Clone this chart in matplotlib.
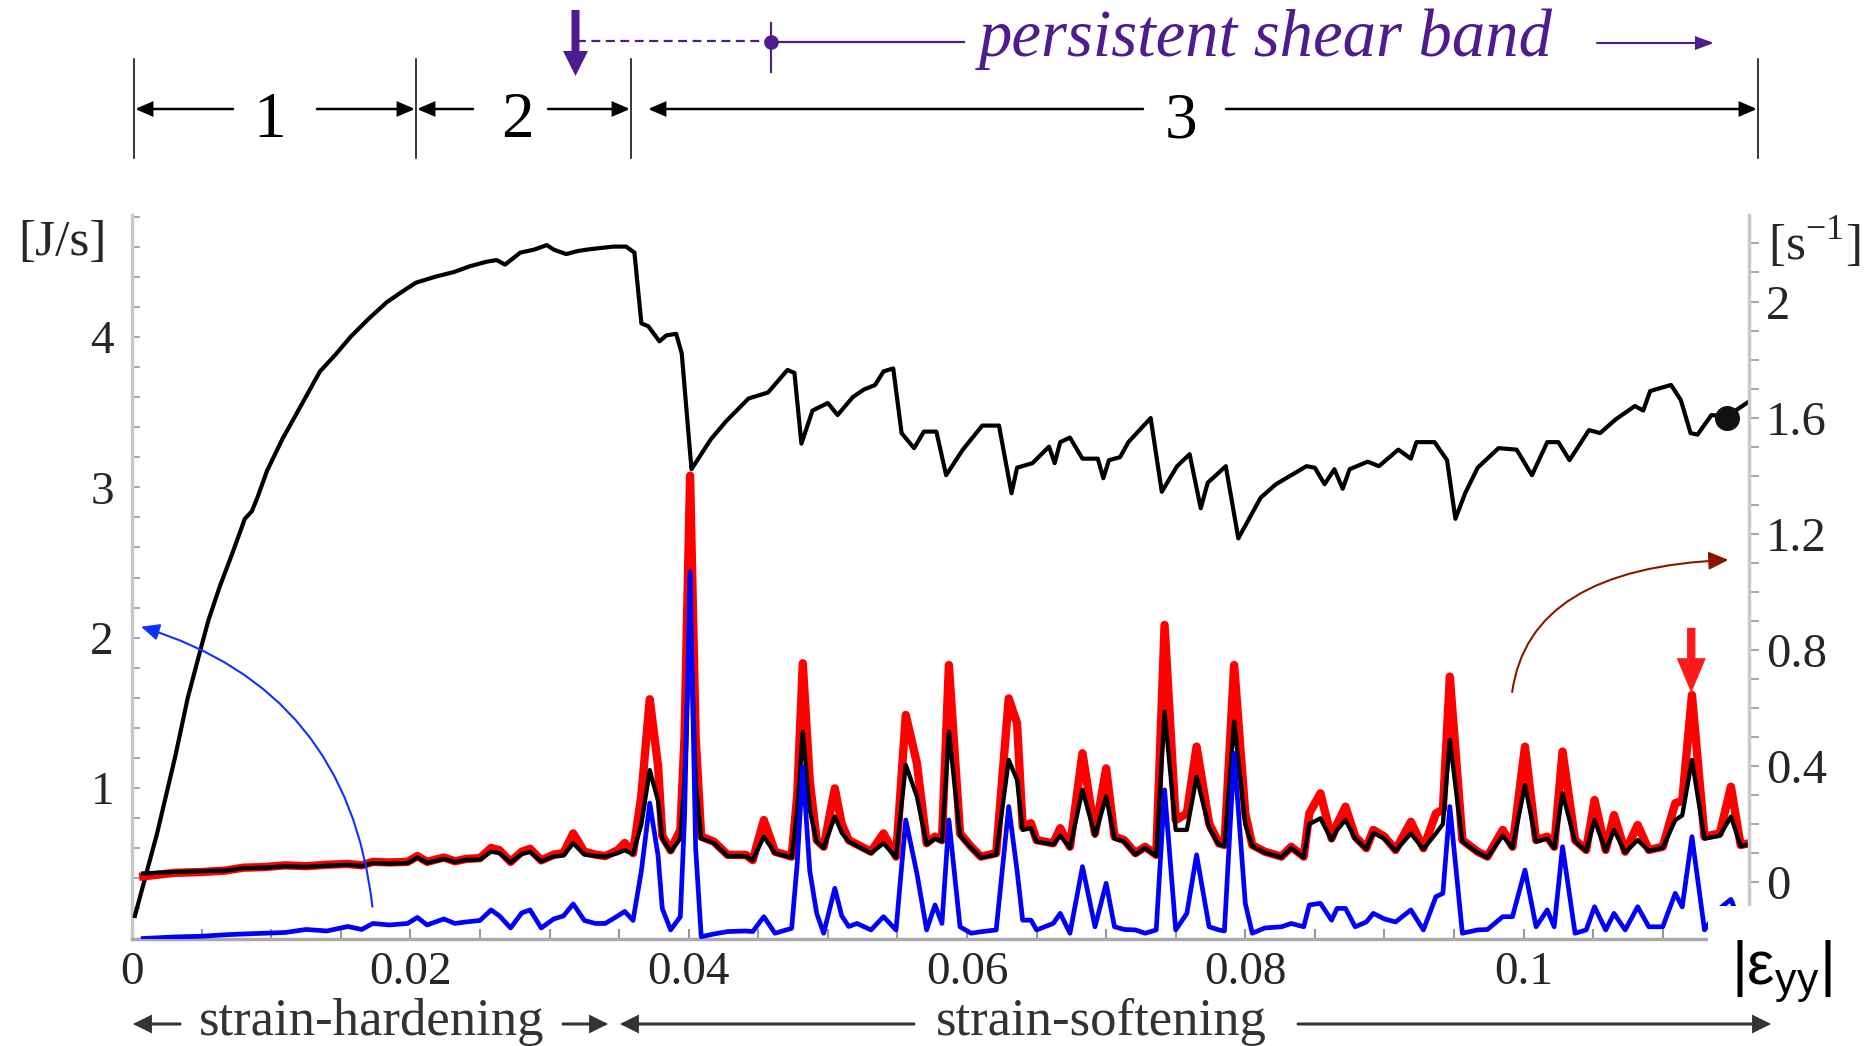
import numpy as np
import matplotlib
matplotlib.use('Agg')
import matplotlib.pyplot as plt
import matplotlib.transforms as mtransforms
from matplotlib.patches import FancyArrowPatch, Rectangle
from matplotlib.path import Path
from matplotlib.lines import Line2D

plt.rcParams['font.family'] = ['Liberation Serif', 'DejaVu Serif']
plt.rcParams['mathtext.fontset'] = 'custom'
plt.rcParams['mathtext.rm'] = 'Liberation Serif'

# ---------------- data ----------------
# dissipation rate curve (J/s, left axis)
top_x = [0.0002, 0.0018, 0.0031, 0.0040, 0.0050, 0.0055, 0.0063, 0.0072, 0.0081, 0.0086,
         0.0090, 0.0097, 0.0108, 0.0117, 0.0126, 0.0135, 0.0140, 0.0146, 0.0157, 0.0170,
         0.0183, 0.0194, 0.0204, 0.0218, 0.0231, 0.0243, 0.0255, 0.0262, 0.0268, 0.0279,
         0.0289, 0.0298, 0.0303, 0.0312, 0.0320, 0.0327, 0.0336, 0.0346, 0.0355, 0.0361,
         0.0366, 0.0371, 0.0379, 0.0384, 0.0391, 0.0395, 0.0402, 0.0416, 0.0427, 0.0443,
         0.0457, 0.0471, 0.0476, 0.0481, 0.0489, 0.0500, 0.0507, 0.0518, 0.0526, 0.0534,
         0.0540, 0.0547, 0.0553, 0.0562, 0.0569, 0.0578, 0.0585, 0.0597, 0.0611, 0.0623,
         0.0632, 0.0636, 0.0647, 0.0659, 0.0663, 0.0667, 0.0674, 0.0683, 0.0694, 0.0698,
         0.0702, 0.0710, 0.0716, 0.0732, 0.0740, 0.0751, 0.0760, 0.0768, 0.0773, 0.0786,
         0.0795, 0.0811, 0.0822, 0.0844, 0.0850, 0.0857, 0.0864, 0.0870, 0.0875, 0.0888,
         0.0896, 0.0910, 0.0919, 0.0923, 0.0936, 0.0945, 0.0951, 0.0958, 0.0967, 0.0982,
         0.0995, 0.1006, 0.1017, 0.1025, 0.1033, 0.1047, 0.1055, 0.1066, 0.1080, 0.1086,
         0.1091, 0.1106, 0.1113, 0.1120, 0.1125, 0.1135, 0.1146, 0.1162]
top_y = [0.15, 0.70, 1.21, 1.60, 1.95, 2.12, 2.34, 2.56, 2.79, 2.84,
         2.93, 3.11, 3.32, 3.47, 3.62, 3.77, 3.82, 3.88, 4.00, 4.12,
         4.23, 4.30, 4.36, 4.40, 4.43, 4.47, 4.50, 4.51, 4.48, 4.56,
         4.58, 4.61, 4.58, 4.55, 4.57, 4.58, 4.59, 4.60, 4.60, 4.56,
         4.09, 4.07, 3.97, 4.01, 4.02, 3.89, 3.12, 3.32, 3.44, 3.59,
         3.63, 3.78, 3.76, 3.29, 3.51, 3.56, 3.48, 3.60, 3.65, 3.68,
         3.77, 3.79, 3.36, 3.26, 3.37, 3.37, 3.08, 3.25, 3.41, 3.41,
         2.96, 3.13, 3.16, 3.27, 3.16, 3.30, 3.33, 3.19, 3.19, 3.06,
         3.18, 3.20, 3.30, 3.46, 2.97, 3.14, 3.22, 2.86, 3.03, 3.14,
         2.66, 2.93, 3.02, 3.14, 3.13, 3.02, 3.12, 2.99, 3.12, 3.17,
         3.14, 3.25, 3.19, 3.30, 3.30, 3.18, 2.79, 2.96, 3.13, 3.26,
         3.25, 3.08, 3.30, 3.30, 3.18, 3.38, 3.36, 3.45, 3.54, 3.51,
         3.64, 3.68, 3.58, 3.36, 3.35, 3.48, 3.47, 3.57]
end_x = [0.1146]
end_y = [3.46]

# spiky curves: shared strain values
spk_x = [0.0008, 0.0030, 0.0050, 0.0067, 0.0080, 0.0095, 0.0110, 0.0125, 0.0140, 0.0155,
         0.0165, 0.0173, 0.0185, 0.0198, 0.0205, 0.0212, 0.0224, 0.0232, 0.0240, 0.0250,
         0.0258, 0.0264, 0.0272, 0.0280, 0.0286, 0.0294, 0.0303, 0.0310, 0.0317, 0.0325,
         0.0333, 0.0340, 0.0349, 0.0354, 0.0360, 0.0366, 0.0372, 0.0378, 0.0381, 0.0387,
         0.0394, 0.0397, 0.0401, 0.0405, 0.0409, 0.0418, 0.0428, 0.0441, 0.0446, 0.0454,
         0.0462, 0.0474, 0.0478, 0.0482, 0.0487, 0.0492, 0.0497, 0.0505, 0.0510, 0.0515,
         0.0521, 0.0531, 0.0540, 0.0549, 0.0556, 0.0564, 0.0571, 0.0577, 0.0582, 0.0587,
         0.0595, 0.0603, 0.0610, 0.0621, 0.0630, 0.0636, 0.0640, 0.0646, 0.0650, 0.0662,
         0.0667, 0.0674, 0.0683, 0.0692, 0.0700, 0.0706, 0.0713, 0.0721, 0.0728, 0.0736,
         0.0742, 0.0750, 0.0758, 0.0765, 0.0774, 0.0781, 0.0785, 0.0792, 0.0800, 0.0805,
         0.0814, 0.0826, 0.0833, 0.0842, 0.0846, 0.0854, 0.0862, 0.0866, 0.0872, 0.0879,
         0.0887, 0.0892, 0.0900, 0.0908, 0.0919, 0.0928, 0.0937, 0.0942, 0.0947, 0.0956,
         0.0967, 0.0974, 0.0985, 0.0992, 0.1001, 0.1009, 0.1017, 0.1022, 0.1028, 0.1037,
         0.1045, 0.1051, 0.1059, 0.1065, 0.1073, 0.1082, 0.1090, 0.1100, 0.1109, 0.1114,
         0.1121, 0.1130, 0.1141, 0.1149, 0.1156, 0.1162]
# red: s^-1 (right axis)
red_y = [0.020, 0.032, 0.035, 0.040, 0.050, 0.052, 0.058, 0.055, 0.060, 0.063,
         0.058, 0.070, 0.068, 0.070, 0.090, 0.070, 0.085, 0.072, 0.080, 0.083,
         0.118, 0.110, 0.070, 0.105, 0.115, 0.075, 0.095, 0.100, 0.168, 0.105,
         0.095, 0.090, 0.110, 0.135, 0.100, 0.300, 0.630, 0.400, 0.160, 0.110,
         0.180, 0.500, 1.400, 0.500, 0.157, 0.140, 0.094, 0.094, 0.076, 0.214,
         0.105, 0.088, 0.300, 0.754, 0.350, 0.145, 0.122, 0.323, 0.200, 0.145,
         0.130, 0.105, 0.168, 0.088, 0.576, 0.410, 0.134, 0.157, 0.145, 0.748,
         0.168, 0.122, 0.088, 0.100, 0.633, 0.547, 0.191, 0.203, 0.145, 0.134,
         0.186, 0.122, 0.444, 0.168, 0.392, 0.157, 0.145, 0.100, 0.122, 0.094,
         0.886, 0.214, 0.237, 0.467, 0.203, 0.134, 0.128, 0.748, 0.237, 0.128,
         0.105, 0.088, 0.122, 0.088, 0.237, 0.306, 0.151, 0.200, 0.260, 0.157,
         0.117, 0.180, 0.157, 0.111, 0.208, 0.117, 0.237, 0.250, 0.708, 0.145,
         0.105, 0.088, 0.180, 0.122, 0.467, 0.145, 0.157, 0.122, 0.450, 0.145,
         0.111, 0.283, 0.111, 0.231, 0.105, 0.197, 0.111, 0.122, 0.272, 0.280,
         0.645, 0.157, 0.168, 0.329, 0.128, 0.134]
# black spiky: s^-1 (right axis)
blk_y = [0.030, 0.035, 0.038, 0.040, 0.048, 0.050, 0.055, 0.053, 0.057, 0.060,
         0.056, 0.066, 0.064, 0.066, 0.085, 0.067, 0.080, 0.070, 0.077, 0.078,
         0.105, 0.100, 0.068, 0.097, 0.104, 0.072, 0.088, 0.092, 0.134, 0.095,
         0.090, 0.088, 0.100, 0.110, 0.097, 0.200, 0.386, 0.280, 0.150, 0.105,
         0.150, 0.350, 0.950, 0.350, 0.150, 0.135, 0.090, 0.090, 0.076, 0.157,
         0.100, 0.085, 0.250, 0.518, 0.250, 0.140, 0.118, 0.226, 0.170, 0.140,
         0.125, 0.100, 0.134, 0.085, 0.404, 0.295, 0.130, 0.150, 0.140, 0.518,
         0.160, 0.118, 0.085, 0.095, 0.421, 0.352, 0.180, 0.186, 0.140, 0.130,
         0.160, 0.118, 0.318, 0.160, 0.295, 0.150, 0.140, 0.095, 0.118, 0.090,
         0.587, 0.180, 0.180, 0.363, 0.186, 0.130, 0.125, 0.553, 0.200, 0.125,
         0.102, 0.085, 0.118, 0.085, 0.200, 0.220, 0.145, 0.180, 0.214, 0.150,
         0.115, 0.170, 0.150, 0.108, 0.168, 0.114, 0.168, 0.200, 0.490, 0.140,
         0.102, 0.085, 0.160, 0.118, 0.335, 0.140, 0.150, 0.118, 0.306, 0.140,
         0.108, 0.214, 0.108, 0.180, 0.102, 0.145, 0.108, 0.118, 0.214, 0.230,
         0.421, 0.150, 0.160, 0.226, 0.125, 0.130]
# blue: J/s (left axis)
blu_y = [0.000, 0.010, 0.015, 0.025, 0.030, 0.035, 0.040, 0.060, 0.050, 0.080,
         0.060, 0.100, 0.090, 0.100, 0.140, 0.090, 0.130, 0.100, 0.110, 0.120,
         0.190, 0.150, 0.070, 0.170, 0.190, 0.070, 0.130, 0.150, 0.230, 0.120,
         0.100, 0.100, 0.150, 0.180, 0.120, 0.450, 0.900, 0.550, 0.200, 0.057,
         0.145, 0.800, 2.440, 0.600, 0.012, 0.030, 0.046, 0.050, 0.046, 0.145,
         0.035, 0.068, 0.500, 1.143, 0.450, 0.167, 0.035, 0.334, 0.150, 0.080,
         0.100, 0.057, 0.145, 0.057, 0.788, 0.433, 0.057, 0.223, 0.100, 0.788,
         0.078, 0.035, 0.045, 0.057, 0.877, 0.450, 0.122, 0.122, 0.057, 0.100,
         0.167, 0.035, 0.478, 0.078, 0.367, 0.078, 0.060, 0.057, 0.035, 0.057,
         0.988, 0.057, 0.167, 0.556, 0.078, 0.057, 0.050, 1.231, 0.234, 0.035,
         0.070, 0.078, 0.100, 0.078, 0.223, 0.234, 0.122, 0.200, 0.200, 0.078,
         0.110, 0.167, 0.130, 0.110, 0.190, 0.057, 0.278, 0.300, 0.877, 0.035,
         0.057, 0.060, 0.145, 0.145, 0.455, 0.078, 0.190, 0.078, 0.610, 0.035,
         0.057, 0.211, 0.057, 0.167, 0.057, 0.211, 0.078, 0.078, 0.300, 0.210,
         0.677, 0.057, 0.200, 0.260, 0.100, 0.060]

x_ticks = [0, 0.02, 0.04, 0.06, 0.08, 0.1]
x_ticklabels = ['0', '0.02', '0.04', '0.06', '0.08', '0.1']
yl_ticks = [1, 2, 3, 4]
yl_ticklabels = ['1', '2', '3', '4']
yr_ticks = [0, 0.4, 0.8, 1.2, 1.6, 2.0]
yr_ticklabels = ['0', '0.4', '0.8', '1.2', '1.6', '2']

# ---------------- figure ----------------
W, H = 1876, 1046
fig = plt.figure(figsize=(W / 100, H / 100), dpi=100)
fig.patch.set_facecolor('white')
ax = fig.add_axes([132.1 / W, 1 - 938.5 / H, (1749 - 132.1) / W, (938.5 - 215) / H])
ax2 = ax.twinx()

XMAX = 0.1162
ax.set_xlim(0, XMAX)
ax.set_ylim(0, 4.81)
ax2.set_ylim(-0.194, 2.298)

purple = '#4e1c8f'
gray = '#c9c9c9'
tlab = '#262626'

ax.plot(top_x, top_y, color='black', lw=3.0, solid_joinstyle='round', zorder=3)
ax.plot(end_x, end_y, 'o', color='#111111', ms=17, zorder=4)
ax.plot(spk_x, red_y, color='#ff0000', lw=6.0, solid_joinstyle='round',
        transform=ax2.transData, zorder=3)
ax.plot(spk_x, blk_y, color='black', lw=3.1, solid_joinstyle='round',
        transform=ax2.transData, zorder=3)
ax.plot(spk_x, blu_y, color='#0000ff', lw=3.4, solid_joinstyle='round', zorder=3)
ax.set_xlim(0, XMAX)
ax.set_ylim(0, 4.81)

for a in (ax, ax2):
    a.spines['top'].set_visible(False)
ax.spines['right'].set_visible(False)
ax2.spines['left'].set_visible(False)
ax2.spines['bottom'].set_visible(False)
ax.spines['left'].set_color(gray)
ax.spines['left'].set_linewidth(2.5)
ax.spines['bottom'].set_color('#aaaaaa')
ax.spines['bottom'].set_linewidth(2.5)
ax2.spines['right'].set_color(gray)
ax2.spines['right'].set_linewidth(2.5)

ax.set_xticks(x_ticks)
ax.set_xticklabels(x_ticklabels)
ax.set_xticks(np.arange(0, 0.1151, 0.005), minor=True)
ax.set_yticks(yl_ticks)
ax.set_yticklabels(yl_ticklabels)
ax.set_yticks(np.arange(0.2, 4.81, 0.2), minor=True)
ax2.set_yticks(yr_ticks)
ax2.set_yticklabels(yr_ticklabels)
ax2.set_yticks(np.arange(-0.1, 2.29, 0.1), minor=True)

ax.tick_params(axis='x', which='both', direction='in', length=7, width=1.5,
               color='#999999', labelsize=34, labelcolor=tlab, pad=9)
ax.tick_params(axis='y', which='both', direction='in', length=6, width=1.5,
               color='#aaaaaa', labelsize=34, labelcolor=tlab, pad=13)
ax2.tick_params(axis='y', which='both', direction='out', length=7, width=1.5,
                color='#aaaaaa', labelsize=35, labelcolor=tlab, pad=5)

# ---------------- annotations (figure pixels, y measured from top) ----------------
ID = mtransforms.IdentityTransform()


def Y(y):
    return H - y


def fline(x0, y0, x1, y1, **kw):
    fig.add_artist(Line2D([x0, x1], [Y(y0), Y(y1)], transform=ID, **kw))


def farrow(x0, y0, x1, y1, color, lw, hl, hw, **kw):
    style = '-|>,head_length=%.2f,head_width=%.2f' % (hl / 1.389, hw / 2 / 1.389)
    fig.add_artist(FancyArrowPatch((x0, Y(y0)), (x1, Y(y1)), transform=ID,
                                   arrowstyle=style, mutation_scale=1, color=color,
                                   lw=lw, shrinkA=0, shrinkB=0, joinstyle='miter', **kw))


def fthick(x0, y0, x1, y1, color, tail, hw, hl):
    style = 'simple,head_length=%.2f,head_width=%.2f,tail_width=%.2f' % (
        hl / 1.389, hw / 1.389, tail / 1.389)
    fig.add_artist(FancyArrowPatch((x0, Y(y0)), (x1, Y(y1)), transform=ID,
                                   arrowstyle=style, mutation_scale=1, color=color,
                                   lw=0, shrinkA=0, shrinkB=0))


# phase boundaries
for bx in (134, 416, 631, 1758):
    fline(bx, 59, bx, 158, color='black', lw=1.1)
# phase arrows
ay = 109
farrow(233, ay, 135, ay, 'black', 1.8, 14, 12)
farrow(317, ay, 415, ay, 'black', 1.8, 14, 12)
farrow(473, ay, 417, ay, 'black', 1.8, 14, 12)
farrow(548, ay, 630, ay, 'black', 1.8, 14, 12)
farrow(1143, ay, 648, ay, 'black', 1.8, 14, 12)
farrow(1226, ay, 1757, ay, 'black', 1.8, 14, 12)
for txt, tx in (('1', 270), ('2', 517), ('3', 1181)):
    fig.text(tx, Y(137), txt, transform=ID, ha='center', va='baseline',
             fontsize=47, color='black')

# persistent shear band
fthick(575.5, 10, 575.5, 76, purple, 8, 25, 25)
fline(577, 41, 771, 41, color=purple, lw=1.6, ls=(0, (4, 2.5)))
fline(771, 23, 771, 72, color=purple, lw=1.5)
fig.add_artist(Line2D([771], [Y(42)], transform=ID, marker='o', ms=9.5,
                      color=purple, ls='none'))
fline(771, 42, 964, 42, color=purple, lw=1.6)
fig.text(979, Y(56), 'persistent shear band', transform=ID, ha='left', va='baseline',
         fontsize=48, style='italic', color=purple)
farrow(1597, 43, 1714, 43, purple, 1.5, 15, 11)

# units
fig.text(62, Y(243), '[J/s]', transform=ID, ha='center', va='center',
         fontsize=37, color=tlab)
fig.text(1814, Y(243), '[s$^{\\mathregular{-1}}$]', transform=ID, ha='center',
         va='center', fontsize=37, color=tlab)

# bottom regime labels
by = 1024
farrow(180, by, 133, by, '#333333', 2.2, 14, 14)
fig.text(372, Y(1035), 'strain-hardening', transform=ID, ha='center', va='baseline',
         fontsize=38, color='#333333')
farrow(563, by, 608, by, '#333333', 2.2, 14, 14)
farrow(914, by, 620, by, '#333333', 2.2, 14, 14)
fig.text(1101, Y(1035), 'strain-softening', transform=ID, ha='center', va='baseline',
         fontsize=38, color='#333333')
farrow(1298, by, 1771, by, '#333333', 2.2, 14, 14)

# strain label box
fig.add_artist(Rectangle((1708, Y(1008)), 145, 102, transform=ID, facecolor='white',
                         edgecolor='none', zorder=5))
t = fig.text(1781, Y(972), '|ε$_{\\mathregular{yy}}$|', transform=ID, ha='center',
             va='center', fontsize=44, color='black', zorder=6,
             family=['Liberation Sans Narrow', 'Liberation Sans', 'DejaVu Sans'])

# curved arrows in data coordinates
bpath = Path([(0.01727, 0.211), (0.01551, 1.652), (0.00064, 2.073)],
             [Path.MOVETO, Path.CURVE3, Path.CURVE3])
ax.add_patch(FancyArrowPatch(path=bpath, transform=ax.transData,
                             arrowstyle='-|>,head_length=11,head_width=5',
                             mutation_scale=1, color='#1030ff', lw=1.5, clip_on=False,
                             zorder=6))
rpath = Path([(0.09918, 0.655), (0.10042, 1.082), (0.11472, 1.11)],
             [Path.MOVETO, Path.CURVE3, Path.CURVE3])
ax2.add_patch(FancyArrowPatch(path=rpath, transform=ax2.transData,
                              arrowstyle='-|>,head_length=12,head_width=5.5',
                              mutation_scale=1, color='#8b1500', lw=1.5, clip_on=False,
                              zorder=6))
ax2.add_patch(FancyArrowPatch((0.11205, 0.876), (0.11205, 0.652), transform=ax2.transData,
                              arrowstyle='simple,head_length=25,head_width=21,tail_width=6',
                              mutation_scale=1, color='#ff1a1a', lw=0, shrinkA=0,
                              shrinkB=0, zorder=6))

fig.savefig('out.png', dpi=100, facecolor='white')
